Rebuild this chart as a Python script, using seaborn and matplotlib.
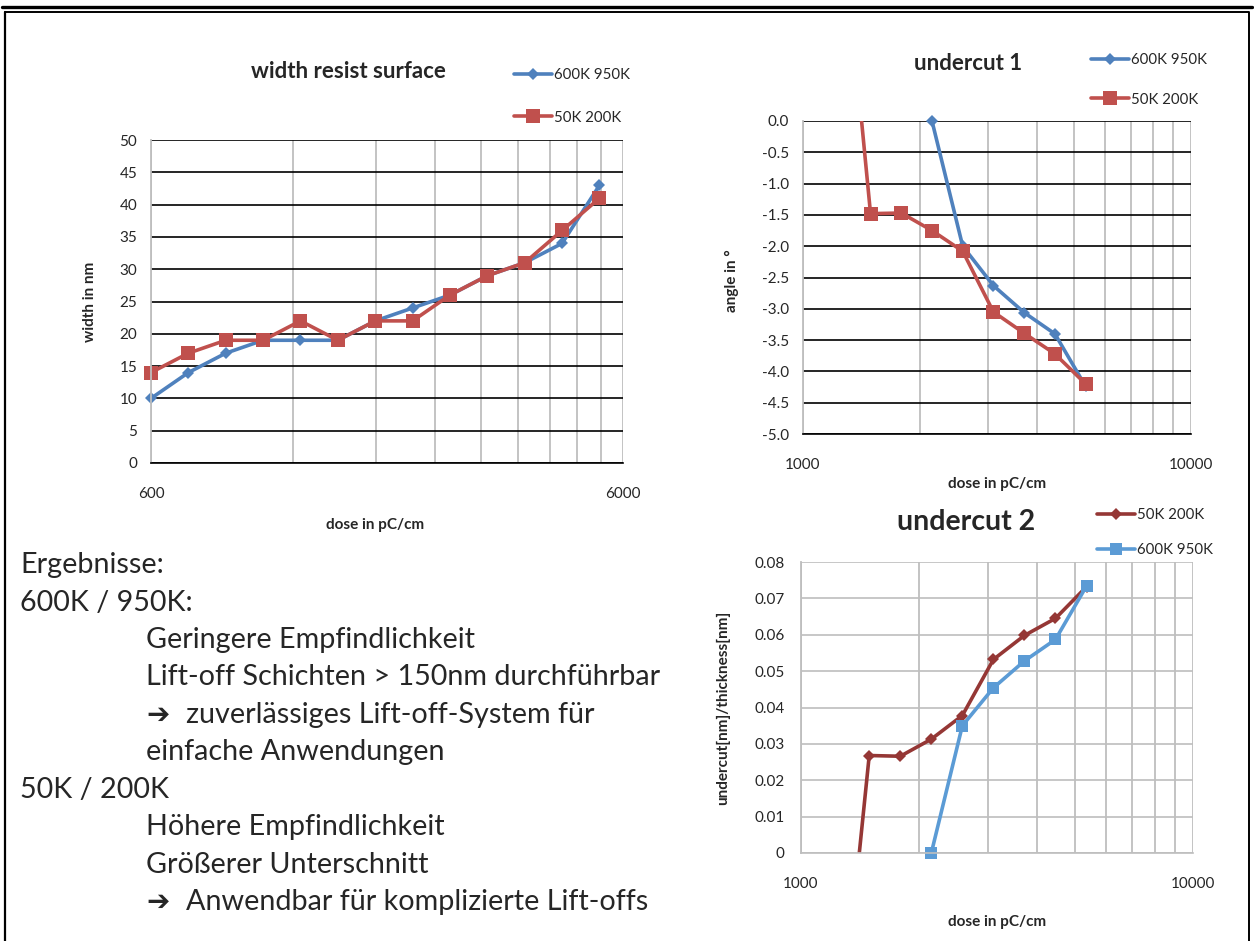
import numpy as np
import matplotlib
matplotlib.use('Agg')
import matplotlib.pyplot as plt
import seaborn as sns
from matplotlib.ticker import NullFormatter
from matplotlib.lines import Line2D

# Data
dose_width = [600, 720, 864, 1037, 1244, 1493, 1792, 2150, 2580, 3096, 3715, 4458, 5350]
width_600k = [10, 14, 17, 19, 19, 19, 22, 24, 26, 29, 31, 34, 43]
width_50k = [14, 17, 19, 19, 22, 19, 22, 22, 26, 29, 31, 36, 41]

dose_600k = [2150, 2580, 3096, 3715, 4458, 5350]
dose_50k = [1244, 1493, 1792, 2150, 2580, 3096, 3715, 4458, 5350]

angle_600k = [0.0, -2.0, -2.63, -3.06, -3.40, -4.24]
angle_50k = [3.6, -1.48, -1.47, -1.75, -2.08, -3.05, -3.39, -3.72, -4.20]

undercut_600k = [0.0, 0.035, 0.0454, 0.0528, 0.0587, 0.0734]
undercut_50k = [-0.057, 0.0268, 0.0266, 0.0313, 0.0378, 0.0532, 0.0598, 0.0645, 0.0732]

notes = [
    (20, 565, "Ergebnisse:"),
    (20, 603, "600K / 950K:"),
    (146, 640, "Geringere Empfindlichkeit"),
    (146, 677, "Lift-off Schichten > 150nm durchführbar"),
    (146, 715, "\u2794 zuverlässiges Lift-off-System für"),
    (146, 752, "einfache Anwendungen"),
    (20, 790, "50K / 200K"),
    (146, 827, "Höhere Empfindlichkeit"),
    (146, 865, "Größerer Unterschnitt"),
    (146, 902, "\u2794 Anwendbar für komplizierte Lift-offs"),
]

BLUE = '#4F81BD'
RED = '#C0504D'
DARKRED = '#953735'
LIGHTBLUE = '#5B9BD5'
GRID_GRAY = '#BEBEBE'

sns.set_style('white')
plt.rcParams['font.family'] = ['Lato', 'DejaVu Sans']

W, H = 1254, 941
fig = plt.figure(figsize=(W / 100, H / 100), dpi=100)


def px_axes(x0, y0, x1, y1):
    return fig.add_axes([x0 / W, 1 - y1 / H, (x1 - x0) / W, (y1 - y0) / H])


def fx(x):
    return x / W


def fy(y):
    return 1 - y / H


def style_log_axis(ax, lo, hi, minor, hgrid_color, bottom_color, ypad=10):
    ax.set_xscale('log')
    ax.set_xlim(lo, hi)
    ax.set_xticks([lo, hi])
    ax.set_xticklabels([str(lo), str(hi)])
    ax.set_xticks(minor, minor=True)
    ax.xaxis.set_minor_formatter(NullFormatter())
    ax.xaxis.grid(True, which='both', color=GRID_GRAY, lw=1.3)
    ax.yaxis.grid(True, which='major', color=hgrid_color, lw=1.2)
    ax.tick_params(which='both', length=0, labelsize=11)
    ax.tick_params(axis='x', pad=17)
    ax.tick_params(axis='y', pad=ypad)
    for s in ['top', 'right']:
        ax.spines[s].set_visible(False)
    ax.spines['left'].set_color(GRID_GRAY)
    ax.spines['left'].set_linewidth(1.3)
    ax.spines['bottom'].set_color(bottom_color)
    ax.spines['bottom'].set_linewidth(1.2)
    ax.set_axisbelow(True)


LABEL_FS = 11

# 1. width resist surface
ax1 = px_axes(151, 140, 623, 463)
sns.lineplot(x=dose_width, y=width_600k, ax=ax1, color=BLUE, marker='D', markersize=6.5,
             markeredgewidth=0, lw=2.6, clip_on=False, sort=False)
sns.lineplot(x=dose_width, y=width_50k, ax=ax1, color=RED, marker='s', markersize=9.5,
             markeredgewidth=0, lw=2.6, clip_on=False, sort=False)
ax1.set_ylim(0, 50)
ax1.set_yticks(np.arange(0, 51, 5))
style_log_axis(ax1, 600, 6000, list(range(1200, 6000, 600)), 'black', 'black')
ax1.set_xlabel('dose in pC/cm', fontsize=LABEL_FS, fontweight='bold')
ax1.set_ylabel('width in nm', fontsize=LABEL_FS, fontweight='bold')
ax1.xaxis.set_label_coords(0.475, -0.17)
ax1.yaxis.set_label_coords(-0.114, 0.5)
fig.text(fx(348), fy(72), 'width resist surface', ha='center', va='center',
         fontsize=16, fontweight='bold')

# 2. undercut 1
ax2 = px_axes(803, 121, 1191, 434)
sns.lineplot(x=dose_600k, y=angle_600k, ax=ax2, color=BLUE, marker='D', markersize=6.5,
             markeredgewidth=0, lw=2.6, clip_on=False, sort=False)
sns.lineplot(x=dose_50k, y=angle_50k, ax=ax2, color=RED, marker='s', markersize=9.5,
             markeredgewidth=0, lw=2.6, sort=False)
ax2.set_ylim(-5, 0)
ax2.set_yticks(np.arange(-5, 0.01, 0.5))
ax2.set_yticklabels([f'{v:.1f}' for v in np.arange(-5, 0.01, 0.5)])
style_log_axis(ax2, 1000, 10000, list(range(2000, 10000, 1000)), 'black', 'black')
ax2.set_xlabel('dose in pC/cm', fontsize=LABEL_FS, fontweight='bold')
ax2.set_ylabel('angle in °', fontsize=LABEL_FS, fontweight='bold')
ax2.xaxis.set_label_coords(0.5, -0.137)
ax2.yaxis.set_label_coords(-0.165, 0.49)
fig.text(fx(968), fy(63), 'undercut 1', ha='center', va='center',
         fontsize=16, fontweight='bold')

# 3. undercut 2
ax3 = px_axes(801, 562, 1193, 853)
sns.lineplot(x=dose_50k, y=undercut_50k, ax=ax3, color=DARKRED, marker='D', markersize=6.5,
             markeredgewidth=0, lw=2.6, sort=False)
sns.lineplot(x=dose_600k, y=undercut_600k, ax=ax3, color=LIGHTBLUE, marker='s', markersize=8.5,
             markeredgewidth=0, lw=2.6, clip_on=False, sort=False)
ax3.set_ylim(0, 0.08)
ax3.set_yticks(np.arange(0, 0.081, 0.01))
ax3.set_yticklabels(['0'] + [f'{v:.2f}' for v in np.arange(0.01, 0.081, 0.01)])
style_log_axis(ax3, 1000, 10000, list(range(2000, 10000, 1000)), GRID_GRAY, GRID_GRAY, ypad=12)
ax3.set_xlabel('dose in pC/cm', fontsize=LABEL_FS, fontweight='bold')
ax3.set_ylabel('undercut[nm]/thickness[nm]', fontsize=LABEL_FS, fontweight='bold')
ax3.xaxis.set_label_coords(0.5, -0.213)
ax3.yaxis.set_label_coords(-0.18, 0.5)
fig.text(fx(966), fy(522), 'undercut 2', ha='center', va='center',
         fontsize=20.5, fontweight='bold')


# legends, Excel style: two rows, right of the title
def legend_at(ax, handles, labels, x, y, spacing):
    return ax.legend(handles, labels, loc='upper left', bbox_to_anchor=(fx(x), fy(y)),
                     bbox_transform=fig.transFigure, frameon=False, fontsize=10.8,
                     handlelength=2.5, handletextpad=0.15, labelspacing=spacing,
                     borderpad=0, borderaxespad=0)


def handle(color, marker, ms):
    return Line2D([], [], color=color, marker=marker, markersize=ms, lw=2.6,
                  markeredgewidth=0)


legend_at(ax1, [handle(BLUE, 'D', 6.5), handle(RED, 's', 9.5)],
          ['600K 950K', '50K 200K'], 514, 68, 1.9)
legend_at(ax2, [handle(BLUE, 'D', 6.5), handle(RED, 's', 9.5)],
          ['600K 950K', '50K 200K'], 1091, 53, 1.7)
legend_at(ax3, [handle(DARKRED, 'D', 6.5), handle(LIGHTBLUE, 's', 8.5)],
          ['50K 200K', '600K 950K'], 1097, 508, 1.4)

# text block on the left
for x, y, s in notes:
    if s.startswith('\u2794'):
        fig.text(fx(x), fy(y), '\u2794', ha='left', va='center', fontsize=20,
                 family=['DejaVu Sans'], fontweight='bold')
        fig.text(fx(x + 40), fy(y), s[2:], ha='left', va='center', fontsize=20.7)
    else:
        fig.text(fx(x), fy(y), s, ha='left', va='center', fontsize=20.7)

# frame lines of the page
fig.add_artist(Line2D([fx(2), fx(1252)], [fy(6.5), fy(6.5)], color='black', lw=2.4))
fig.add_artist(Line2D([fx(5), fx(1249), fx(1249)], [fy(11.5), fy(11.5), fy(941)],
                      color='black', lw=1.4))
fig.add_artist(Line2D([fx(5), fx(5)], [fy(11.5), fy(941)], color='black', lw=1.6))

fig.savefig('out.png', dpi=100)
